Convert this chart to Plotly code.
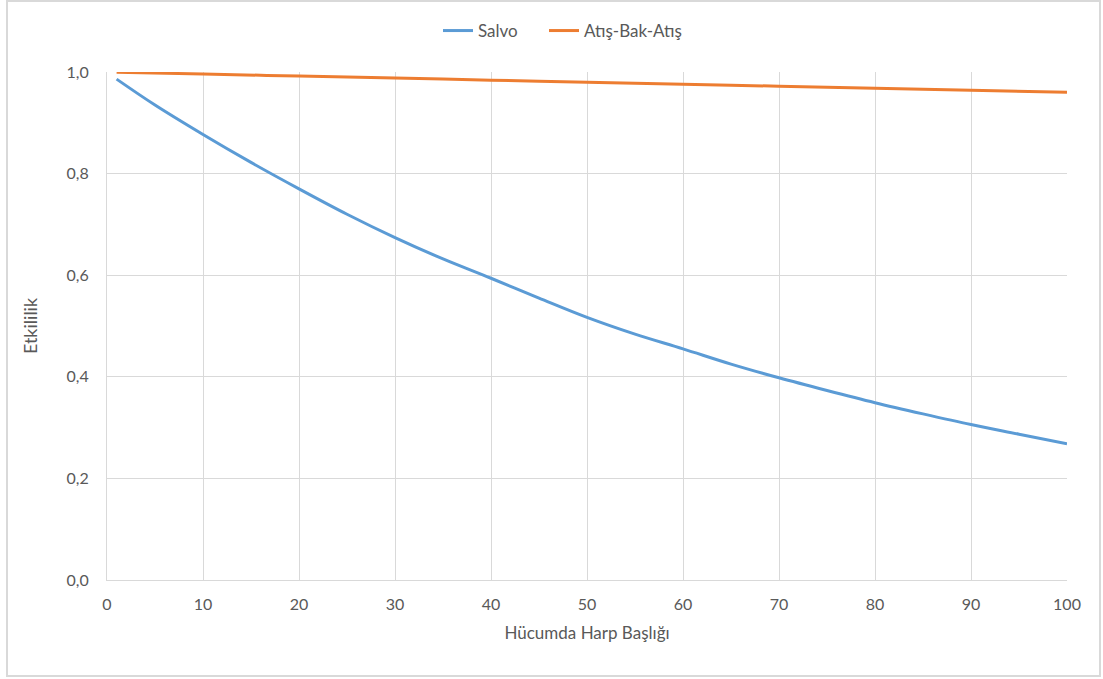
import plotly.graph_objects as go

# Hücumda harp başlığı sayısı (x) ve etkililik değerleri
salvo_x = [1, 5, 10, 15, 20, 25, 30, 35, 40, 45, 50, 55, 60, 65, 70, 75, 80, 85, 90, 95, 100]
salvo_y = [0.986, 0.935, 0.877, 0.822, 0.770, 0.720, 0.674, 0.632, 0.594, 0.555, 0.517,
           0.484, 0.455, 0.425, 0.398, 0.373, 0.349, 0.327, 0.306, 0.287, 0.268]

aba_x = [1, 10, 20, 30, 40, 50, 60, 70, 80, 90, 100]
aba_y = [0.9995, 0.996, 0.992, 0.988, 0.984, 0.980, 0.976, 0.972, 0.968, 0.964, 0.960]

x_ticks = [0, 10, 20, 30, 40, 50, 60, 70, 80, 90, 100]
y_ticks = [0.0, 0.2, 0.4, 0.6, 0.8, 1.0]

W, H = 1103, 679
L, R, T, B = 107, 36, 72, 99
PW, PH = W - L - R, H - T - B

def px_x(p):
    return (p - L) / PW

def px_y(p):
    return (H - B - p) / PH

FONT = "Lato, Carlito, Calibri, sans-serif"
TXT = "#595959"
GRID = "#d9d9d9"

fig = go.Figure()
fig.add_trace(go.Scatter(x=salvo_x, y=salvo_y, mode="lines", name="Salvo", legend="legend",
                         line=dict(color="#5B9BD5", width=3, shape="spline")))
fig.add_trace(go.Scatter(x=aba_x, y=aba_y, mode="lines", name="Atış-Bak-Atış", legend="legend2",
                         line=dict(color="#ED7D31", width=3, shape="spline")))

legend_style = dict(orientation="h", xanchor="left", y=px_y(31), yanchor="middle",
                    font=dict(size=17, color=TXT), bgcolor="rgba(0,0,0,0)")

fig.update_layout(
    width=W, height=H,
    margin=dict(l=L, r=R, t=T, b=B),
    paper_bgcolor="white", plot_bgcolor="white",
    separators=",.",
    font=dict(family=FONT, size=16, color=TXT),
    showlegend=True,
    legend=dict(x=px_x(438), **legend_style),
    legend2=dict(x=px_x(544), **legend_style),
    shapes=[dict(type="rect", xref="paper", yref="paper",
                 x0=px_x(7), x1=px_x(1100), y0=px_y(676), y1=px_y(1),
                 line=dict(color=GRID, width=2), layer="below")],
)
fig.update_xaxes(range=[0, 100], tickvals=x_ticks, showgrid=True, gridcolor=GRID, gridwidth=1,
                 showline=True, linecolor=GRID, linewidth=1, zeroline=False, ticks="",
                 ticklabelstandoff=10,
                 title=dict(text="Hücumda Harp Başlığı", font=dict(size=17, color=TXT), standoff=14))
fig.update_yaxes(range=[0, 1.0], tickvals=y_ticks, tickformat=".1f", showgrid=True, gridcolor=GRID,
                 gridwidth=1, showline=True, linecolor=GRID, linewidth=1, zeroline=False, ticks="",
                 ticklabelstandoff=14,
                 title=dict(text="Etkililik", font=dict(size=18, color=TXT), standoff=24))

fig.write_html("out.html")
